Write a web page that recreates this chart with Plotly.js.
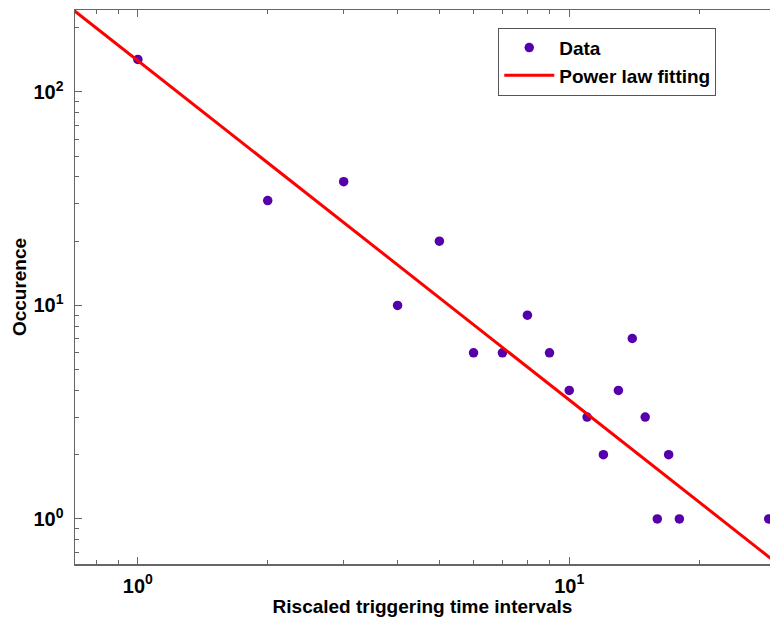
<!DOCTYPE html>
<html>
<head>
<meta charset="utf-8">
<script src="https://cdn.plot.ly/plotly-3.0.1.min.js"></script>
<style>html,body{margin:0;padding:0;background:#fff;}#chart{width:770px;height:620px;}</style>
</head>
<body>
<div id="chart"></div>
<script>
const dataX = [1, 2, 3, 4, 5, 6, 7, 8, 9, 10, 11, 12, 13, 14, 15, 16, 17, 18, 29];
const dataY = [142, 31, 38, 10, 20, 6, 6, 9, 6, 4, 3, 2, 4, 7, 3, 1, 2, 1, 1];
const fitX = [0.7, 30];
const fitY = [247, 0.63];
const xMajorVals = [1, 10];
const xMajorText = ['10<sup>0</sup>', '10<sup>1</sup>'];
const xMinorVals = [0.8, 0.9, 2, 3, 4, 5, 6, 7, 8, 9, 20];
const yMajorVals = [1, 10, 100];
const yMajorText = ['10<sup>0</sup>', '10<sup>1</sup>', '10<sup>2</sup>'];
const yMinorVals = [0.7, 0.8, 0.9, 2, 3, 4, 5, 6, 7, 8, 9, 20, 30, 40, 50, 60, 70, 80, 90, 200];

const fam = 'Liberation Sans, Arial, sans-serif';

const traces = [
  {x: dataX, y: dataY, type: 'scatter', mode: 'markers', name: '<b>Data</b>',
   marker: {color: '#5500aa', size: 9.5}},
  {x: fitX, y: fitY, type: 'scatter', mode: 'lines', name: '<b>Power law fitting</b>',
   line: {color: '#ff0000', width: 3}}
];

const axisCommon = {
  type: 'log', showgrid: false, zeroline: false, showline: true,
  linecolor: '#666', linewidth: 1.5,
  ticks: 'inside', ticklen: 7, tickwidth: 1, tickcolor: '#666',
  tickmode: 'array',
  tickfont: {family: fam, size: 20, color: '#000', weight: 'bold'}
};

const layout = {
  width: 770, height: 620,
  margin: {l: 75, r: 0, t: 10, b: 56},
  paper_bgcolor: '#fff', plot_bgcolor: '#fff',
  font: {family: fam, color: '#000'},
  showlegend: true,
  legend: {x: 0.609, y: 0.968, xanchor: 'left', yanchor: 'top',
    bgcolor: '#fff', bordercolor: '#555', borderwidth: 1, itemwidth: 50,
    tracegroupgap: 0,
    font: {family: fam, size: 19, color: '#000'}},
  xaxis: Object.assign({}, axisCommon, {
    mirror: 'ticks',
    ticklabelstandoff: 3,
    range: [Math.log10(0.715), Math.log10(29.2)],
    tickvals: xMajorVals, ticktext: xMajorText,
    minor: {tickmode: 'array', tickvals: xMinorVals, ticks: 'inside', ticklen: 4, tickcolor: '#666'},
    title: {text: '<b>Riscaled triggering time intervals</b>', font: {family: fam, size: 19, color: '#000'}, standoff: 3}
  }),
  yaxis: Object.assign({}, axisCommon, {
    mirror: false,
    ticklabelstandoff: 6,
    range: [Math.log10(0.615), Math.log10(242)],
    tickvals: yMajorVals, ticktext: yMajorText,
    minor: {tickmode: 'array', tickvals: yMinorVals, ticks: 'inside', ticklen: 4, tickcolor: '#666'},
    title: {text: '<b>Occurence</b>', font: {family: fam, size: 19, color: '#000'}, standoff: 2}
  })
};

Plotly.newPlot('chart', traces, layout, {displayModeBar: false, staticPlot: true});
</script>
</body>
</html>
